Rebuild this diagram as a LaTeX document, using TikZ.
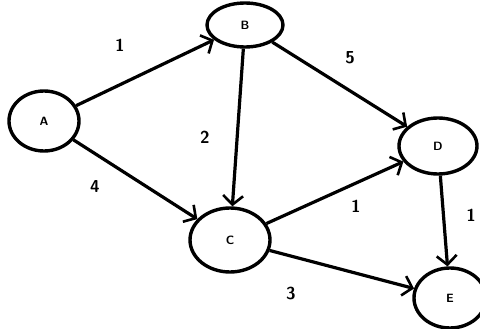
\documentclass[tikz,border=0pt]{standalone}
\usetikzlibrary{arrows.meta,shapes.geometric}
\begin{document}
\begin{tikzpicture}[x=1pt,y=-1pt,
  vert/.style={draw,ellipse,line width=3.4pt,inner sep=0pt,font=\sffamily\bfseries\large},
  edge/.style={line width=3.2pt,-{Straight Barb[length=9pt,width=20pt,line width=2.6pt]}},
  wt/.style={font=\sffamily\bfseries\LARGE}]
\useasboundingbox (0,0) rectangle (480,329);
\node[vert,minimum width=70pt,minimum height=60pt] (A) at (44,121) {A};
\node[vert,minimum width=76pt,minimum height=44pt] (B) at (245,25) {B};
\node[vert,minimum width=78pt,minimum height=56pt] (D) at (438,146) {D};
\node[vert,minimum width=80pt,minimum height=64pt] (C) at (230,240) {C};
\node[vert,minimum width=72pt,minimum height=60pt] (E) at (450,298) {E};
\draw[edge] (A) -- (B);
\draw[edge] (A) -- (C);
\draw[edge] (B) -- (C);
\draw[edge] (B) -- (D);
\draw[edge] (C) -- (D);
\draw[edge] (C) -- (E);
\draw[edge] (D) -- (E);
\node[wt] (w1) at (120,45) {1};
\node[wt] (w2) at (205,137) {2};
\node[wt] (w3) at (95,187) {4};
\node[wt] (w4) at (350,58) {5};
\node[wt] (w5) at (356,206) {1};
\node[wt] (w6) at (471,215) {1};
\node[wt] (w7) at (291,294) {3};
\end{tikzpicture}
\end{document}
